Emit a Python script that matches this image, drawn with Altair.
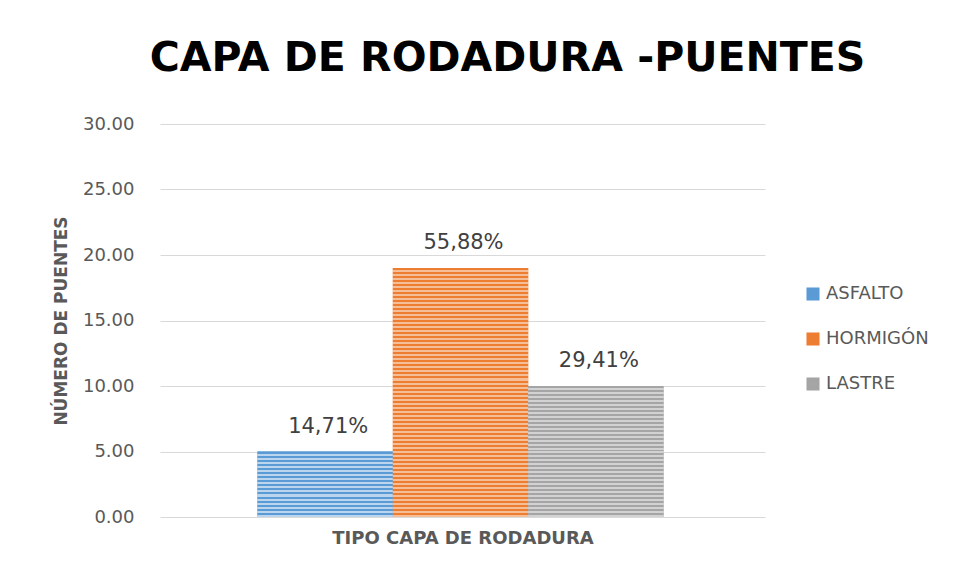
import altair as alt
import pandas as pd

tipos = ["ASFALTO", "HORMIGÓN", "LASTRE"]
puentes = [5, 19, 10]
etiquetas = ["14,71%", "55,88%", "29,41%"]
colores = ["#5B9BD5", "#ED7D31", "#A5A5A5"]
colores_claros = ["#BCD5EE", "#F6BE96", "#D2D2D2"]
y_ticks = [0, 5, 10, 15, 20, 25, 30]

df = pd.DataFrame({"tipo": tipos, "puentes": puentes, "etiqueta": etiquetas})

PLOT_W = 605
PLOT_H = 393
Y_MAX = 30
STRIPE = 4.0
FONT = "DejaVu Sans"


def stripes(dark, light, value):
    h = value * PLOT_H / Y_MAX
    n = max(1, round(h / STRIPE))
    stops = []
    for i in range(n):
        a = i / n
        m = (i + 0.5) / n
        b = (i + 1) / n
        stops += [
            {"offset": a, "color": dark},
            {"offset": m, "color": dark},
            {"offset": m, "color": light},
            {"offset": b, "color": light},
        ]
    return alt.LinearGradient(gradient="linear", x1=0, y1=0, x2=0, y2=1, stops=stops)


x_scale = alt.Scale(paddingInner=0, paddingOuter=0.735, align=0.49)

x_enc = alt.X(
    "tipo:N",
    sort=tipos,
    scale=x_scale,
    axis=alt.Axis(
        title="TIPO CAPA DE RODADURA",
        labels=False,
        ticks=False,
        domain=False,
        titleFont=FONT,
        titleFontSize=18,
        titleFontWeight="bold",
        titleColor="#595959",
        titlePadding=12,
    ),
)
y_enc = alt.Y(
    "puentes:Q",
    scale=alt.Scale(domain=[0, Y_MAX]),
    axis=alt.Axis(
        title="NÚMERO DE PUENTES",
        values=y_ticks,
        format=".2f",
        ticks=False,
        domain=False,
        labelFont=FONT,
        labelFontSize=18,
        labelColor="#595959",
        labelPadding=26,
        gridColor="#D9D9D9",
        titleFont=FONT,
        titleFontSize=17,
        titleFontWeight="bold",
        titleColor="#595959",
        titlePadding=12,
    ),
)

base = alt.Chart(df).mark_bar().encode(
    x=x_enc,
    y=y_enc,
    color=alt.Color(
        "tipo:N",
        sort=tipos,
        scale=alt.Scale(domain=tipos, range=colores),
        legend=alt.Legend(
            title=None,
            orient="none",
            legendX=644,
            legendY=161,
            symbolType="square",
            symbolSize=170,
            symbolStrokeWidth=0,
            labelFont=FONT,
            labelFontSize=18,
            labelColor="#595959",
            rowPadding=27,
            labelOffset=4,
        ),
    ),
)

layers = [base]
for t, v, c, cl in zip(tipos, puentes, colores, colores_claros):
    layers.append(
        alt.Chart(df)
        .transform_filter(alt.datum.tipo == t)
        .mark_bar(fill=stripes(c, cl, v))
        .encode(x=alt.X("tipo:N", sort=tipos), y="puentes:Q")
    )

text = alt.Chart(df).mark_text(
    dy=-15, dx=3, font=FONT, fontSize=21, color="#404040", baseline="bottom"
).encode(x=alt.X("tipo:N", sort=tipos), y="puentes:Q", text="etiqueta:N")
layers.append(text)

chart = (
    alt.layer(*layers)
    .properties(
        width=PLOT_W,
        height=PLOT_H,
        padding={"left": 44, "top": 30, "right": 5, "bottom": 5},
        title=alt.TitleParams(
            "CAPA DE RODADURA -PUENTES",
            font=FONT,
            fontSize=41,
            fontWeight="bold",
            color="#000000",
            anchor="middle",
            frame="group",
            offset=35,
            dx=45,
        ),
    )
    .configure_view(stroke=None)
)

chart.save("out.html", embed_options={"renderer": "svg", "actions": False})
